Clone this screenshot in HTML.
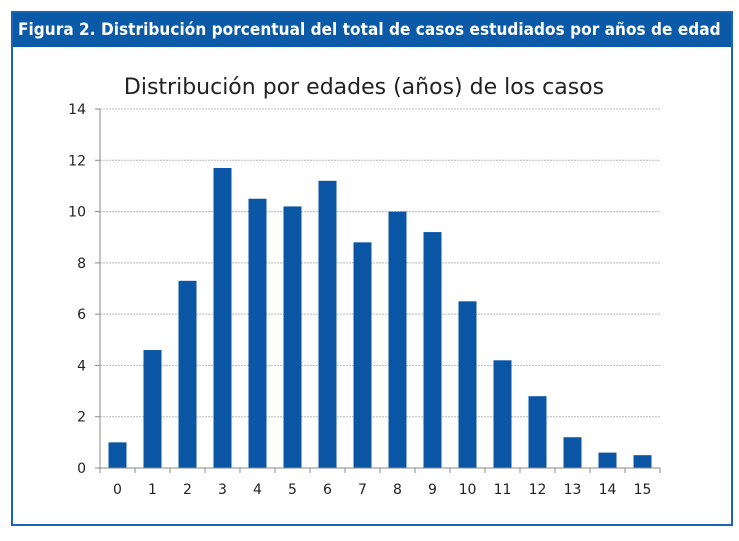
<!DOCTYPE html>
<html><head><meta charset="utf-8"><style>
body{margin:0;background:#fff;width:739px;height:541px;overflow:hidden;font-family:"DejaVu Sans",sans-serif}
#frame{position:absolute;left:11px;top:11px;width:718px;height:511px;border:2px solid #1a65b5;box-sizing:content-box}
#hdr{position:absolute;left:0;top:0;width:718px;height:34px;background:#0b5aa8;color:#fff;font-weight:bold;font-size:17px;line-height:34px;padding-left:5px;box-sizing:border-box;white-space:nowrap;font-family:"DejaVu Sans Condensed","DejaVu Sans",sans-serif;letter-spacing:0.05px}
svg{position:absolute;left:0;top:0}
</style></head><body>
<div id="frame">
<div id="hdr">Figura 2. Distribución porcentual del total de casos estudiados por años de edad</div>
</div>
<svg id="chart" width="739" height="541">
<text x="364" y="94" text-anchor="middle" font-size="22" fill="#222" font-family="DejaVu Sans, sans-serif">Distribución por edades (años) de los casos</text>
</svg>
<script>
const categories=["0","1","2","3","4","5","6","7","8","9","10","11","12","13","14","15"];
const values=[1.0,4.6,7.3,11.7,10.5,10.2,11.2,8.8,10.0,9.2,6.5,4.2,2.8,1.2,0.6,0.5];
const yTicks=[0,2,4,6,8,10,12,14];
const svg=document.getElementById('chart');const NS='http://www.w3.org/2000/svg';
const x0=100,x1=660,yb=468,yt=109,ymax=14;
const y=v=>yb-(v/ymax)*(yb-yt);
const bw=(x1-x0)/categories.length;
const xc=i=>x0+bw*(i+0.5);
function mk(t,a){const e=document.createElementNS(NS,t);for(const k in a)e.setAttribute(k,a[k]);svg.appendChild(e);return e;}
yTicks.forEach(t=>{
 if(t>0){const g=mk('line',{x1:x0,x2:x1,y1:y(t),y2:y(t),stroke:'#b8b8b8','stroke-dasharray':'2,1'});
 
 }
 const tk=mk('line',{x1:x0-5,x2:x0,y1:y(t),y2:y(t),stroke:'#888'});
 
 
 const l=mk('text',{x:86,y:y(t)+5,'text-anchor':'end','font-size':'14',fill:'#222'});l.textContent=t;
 
 
});
values.forEach((v,i)=>{
 const r=mk('rect',{x:xc(i)-9,y:y(v),width:18,height:yb-y(v),fill:'#0b56a4'});
 
 
 const l=mk('text',{x:xc(i),y:yb+26,'text-anchor':'middle','font-size':'14',fill:'#222'});l.textContent=categories[i];
 
 
});
for(let i=0;i<=categories.length;i++){const tk=mk('line',{x1:x0+bw*i,x2:x0+bw*i,y1:yb,y2:yb+5,stroke:'#888'});
 
 }
const ya=mk('line',{x1:x0,x2:x0,y1:yt,y2:yb,stroke:'#888'});


const xa=mk('line',{x1:x0,x2:x1,y1:yb,y2:yb,stroke:'#888'});


</script>
</body></html>
